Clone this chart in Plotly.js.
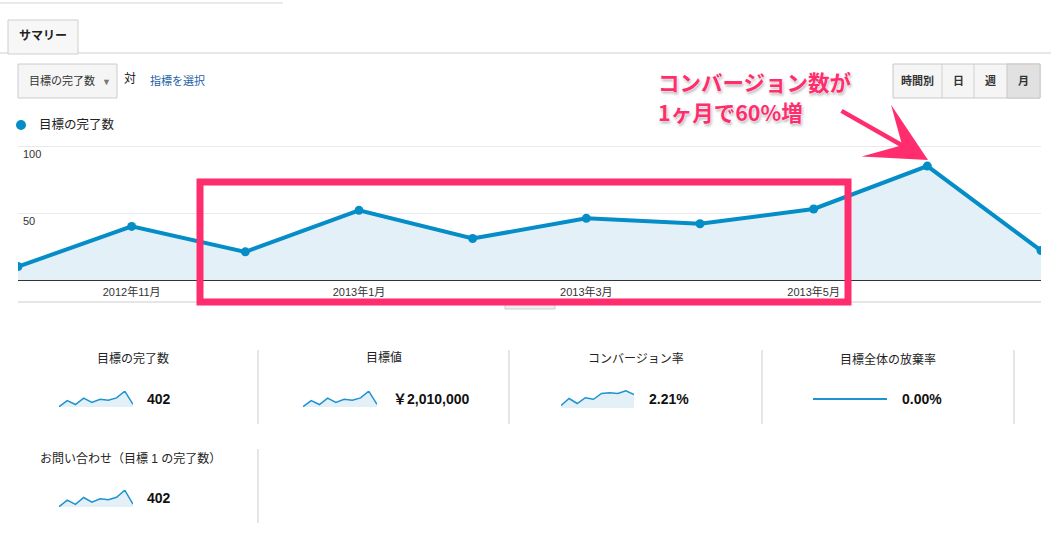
<!DOCTYPE html>
<html>
<head>
<meta charset="utf-8">
<script src="https://cdn.plot.ly/plotly-3.0.1.min.js"></script>
<style>
  html, body { margin: 0; padding: 0; background: #fff; }
  #chart { width: 1051px; height: 542px; }
</style>
</head>
<body>
<div id="chart"></div>
<script>
// months shown on the main chart
const months = ['2012年10月', '2012年11月', '2012年12月', '2013年1月', '2013年2月',
  '2013年3月', '2013年4月', '2013年5月', '2013年6月', '2013年7月'];
const tickMonths = ['2012年11月', '2013年1月', '2013年3月', '2013年5月'];
const yTickVals = [50, 100];

// series
const goalCompletions = [10, 40, 21, 52, 31, 46, 42, 53, 85, 22];
const goalValue = [50000, 200000, 105000, 260000, 155000, 230000, 210000, 265000, 425000, 110000];
const convRate = [1.30, 1.84, 1.45, 1.90, 1.78, 2.23, 2.29, 2.23, 2.44, 2.14];
const abandonRate = [0, 0, 0, 0, 0, 0, 0, 0, 0, 0];
const contactCompletions = [10, 40, 21, 52, 31, 46, 42, 53, 85, 22];

// scorecards
const cardTitles = ['目標の完了数', '目標値', 'コンバージョン率', '目標全体の放棄率', 'お問い合わせ（目標 1 の完了数）'];
const cardValues = ['402', '￥2,010,000', '2.21%', '0.00%', '402'];
const cardSeries = [goalCompletions, goalValue, convRate, abandonRate, contactCompletions];

// callout
const calloutLines = ['コンバージョン数が', '1ヶ月で60%増'];

const W = 1051, H = 542;
const X = p => p / W;
const Y = p => 1 - p / H;

const BLUE = '#058dc7';
const PINK = '#ff2d6e';
const FONT = 'Liberation Sans, Noto Sans CJK JP, sans-serif';

// pixel layout of the scorecards
const cardPos = [
  { cx: 133, ty: 358, sx0: 59, sx1: 133, sy0: 391, sy1: 407, vx: 145, vy: 399 },
  { cx: 384, ty: 357, sx0: 303, sx1: 377, sy0: 391, sy1: 407, vx: 391, vy: 399 },
  { cx: 636, ty: 359, sx0: 561, sx1: 634, sy0: 390, sy1: 408, vx: 647, vy: 399 },
  { cx: 888, ty: 359, sx0: 813, sx1: 887, sy0: 390, sy1: 408, vx: 900, vy: 399 },
  { cx: 130, ty: 458, sx0: 59, sx1: 133, sy0: 490, sy1: 507, vx: 145, vy: 498 }
];
const sparkRanges = [[9, 86], [45000, 430000], [1.1, 2.5], [-1, 1], [9, 86]];

function txt(x, y, text, opts) {
  return Object.assign({
    xref: 'paper', yref: 'paper', x: X(x), y: Y(y), text: text, showarrow: false,
    xanchor: 'left', yanchor: 'middle', font: { family: FONT, size: 12, color: '#222' }
  }, opts || {});
}
function rect(x0, y0, x1, y1, fill, line) {
  return { type: 'rect', xref: 'paper', yref: 'paper', x0: X(x0), x1: X(x1), y0: Y(y0), y1: Y(y1),
    fillcolor: fill, line: { color: line || 'rgba(0,0,0,0)', width: line ? 1 : 0 } };
}
function hline(x0, x1, y, color) {
  return { type: 'line', xref: 'paper', yref: 'paper', x0: X(x0), x1: X(x1), y0: Y(y), y1: Y(y),
    line: { color: color, width: 1 } };
}
function vline(x, y0, y1, color) {
  return { type: 'line', xref: 'paper', yref: 'paper', x0: X(x), x1: X(x), y0: Y(y0), y1: Y(y1),
    line: { color: color, width: 1 } };
}

// main trace
const traces = [{
  x: months, y: goalCompletions, type: 'scatter', mode: 'lines+markers',
  line: { color: BLUE, width: 4 }, marker: { color: BLUE, size: 9 },
  fill: 'tozeroy', fillcolor: '#e3f0f7', hoverinfo: 'skip'
}];

const layout = {
  width: W, height: H, margin: { l: 0, r: 0, t: 0, b: 0 },
  paper_bgcolor: '#fff', plot_bgcolor: '#fff', showlegend: false,
  font: { family: FONT, size: 12, color: '#222' },
  xaxis: {
    type: 'category', domain: [X(18), X(1041)], range: [0, 9],
    tickvals: tickMonths, ticktext: tickMonths, ticks: '', showgrid: false,
    showline: true, linecolor: '#333', linewidth: 1, zeroline: false, ticklabelstandoff: 2,
    tickfont: { family: FONT, size: 11, color: '#333' }, fixedrange: true
  },
  yaxis: {
    domain: [Y(280), Y(144)], range: [0, 101.5], tick0: 0, dtick: 50,
    showgrid: true, gridcolor: '#e9e9e9', showticklabels: false, zeroline: false, fixedrange: true
  },
  shapes: [],
  annotations: []
};

// sparklines, one small axis pair each
cardSeries.forEach((s, i) => {
  const p = cardPos[i];
  const n = i + 2;
  const flat = s.every(v => v === 0);
  traces.push({
    x: months, y: s, type: 'scatter', mode: 'lines', xaxis: 'x' + n, yaxis: 'y' + n,
    line: { color: '#1e93d0', width: flat ? 2 : 1.5 },
    fill: flat ? 'none' : 'tozeroy', fillcolor: '#e3f0f8', hoverinfo: 'skip'
  });
  layout['xaxis' + n] = { type: 'category', domain: [X(p.sx0), X(p.sx1)], range: [0, 9], visible: false, anchor: 'y' + n };
  layout['yaxis' + n] = { domain: [Y(p.sy1), Y(p.sy0)], range: sparkRanges[i], visible: false, anchor: 'x' + n };
  layout.annotations.push(txt(p.cx, p.ty, cardTitles[i], { xanchor: 'center', font: { family: FONT, size: 12, color: '#222' } }));
  layout.annotations.push(txt(p.vx, p.vy, '<b>' + cardValues[i] + '</b>', { font: { family: FONT, size: 14, color: '#111' } }));
});

// y tick labels sit just under the gridlines
yTickVals.forEach(v => {
  layout.annotations.push({
    xref: 'paper', yref: 'y', x: X(21), y: v, yanchor: 'top', xanchor: 'left', yshift: 0,
    text: String(v), showarrow: false, font: { family: FONT, size: 11, color: '#333' }
  });
});

// page chrome: top rule, tab, dropdown, period buttons
layout.shapes.push(
  hline(0, 283, 3, '#d5d5d5'),
  rect(8, 20, 78, 54, '#f7f7f7', '#cfcfcf'),
  hline(0, 8, 53, '#cfcfcf'),
  hline(78, 1051, 53, '#cfcfcf'),
  rect(18, 64, 117, 98, '#f5f5f5', '#cccccc'),
  rect(893, 64, 1040, 98, '#f5f5f5', '#c8c8c8'),
  rect(1007, 64, 1040, 98, '#e1e1e1', '#c8c8c8'),
  vline(942, 64, 98, '#d0d0d0'),
  vline(974, 64, 98, '#d0d0d0'),
  { type: 'circle', xref: 'paper', yref: 'paper', x0: X(16), x1: X(26), y0: Y(130), y1: Y(120),
    fillcolor: BLUE, line: { width: 0 } },
  hline(18, 1041, 302, '#cccccc'),
  rect(505, 302, 555, 309, '#eeeeee', '#cccccc')
);
// scorecard dividers
[258, 509, 762, 1014].forEach(x => layout.shapes.push(vline(x, 350, 424, '#cccccc')));
layout.shapes.push(vline(258, 449, 523, '#cccccc'));

// pink highlight box
layout.shapes.push({
  type: 'rect', xref: 'paper', yref: 'paper', x0: X(200), x1: X(848), y0: Y(182), y1: Y(302),
  line: { color: PINK, width: 7 }, fillcolor: 'rgba(0,0,0,0)', layer: 'above'
});

layout.annotations.push(
  txt(43, 36, '<b>サマリー</b>', { xanchor: 'center', font: { family: FONT, size: 12, color: '#222' } }),
  txt(27, 81, '目標の完了数', { font: { family: FONT, size: 11, color: '#333' } }),
  txt(106, 82, '▼', { xanchor: 'center', font: { family: FONT, size: 9, color: '#777' } }),
  txt(122, 79, '対', { font: { family: FONT, size: 12, color: '#111' } }),
  txt(148, 81, '指標を選択', { font: { family: FONT, size: 11, color: '#1d5fa8' } }),
  txt(917, 81, '<b>時間別</b>', { xanchor: 'center', font: { family: FONT, size: 11, color: '#333' } }),
  txt(958, 81, '<b>日</b>', { xanchor: 'center', font: { family: FONT, size: 11, color: '#333' } }),
  txt(990, 81, '<b>週</b>', { xanchor: 'center', font: { family: FONT, size: 11, color: '#333' } }),
  txt(1023, 81, '<b>月</b>', { xanchor: 'center', font: { family: FONT, size: 11, color: '#333' } }),
  txt(37, 125, '目標の完了数', { font: { family: FONT, size: 12.5, color: '#222' } }),
  // callout arrow
  {
    xref: 'paper', yref: 'paper', x: X(928), y: Y(160), ax: -88, ay: -50, text: '',
    showarrow: true, arrowhead: 3, arrowsize: 2.2, arrowwidth: 4.5, arrowcolor: PINK, standoff: 0
  }
);
// callout text, one annotation per line
calloutLines.forEach((line, i) => {
  layout.annotations.push(txt(656, 82 + i * 30, '<b>' + line + '</b>', {
    font: { family: 'Noto Sans CJK JP, sans-serif', size: 21.5, color: PINK,
      shadow: '0 0 2px #fff, 0 0 2px #fff, 1px 2px 3px rgba(0,0,0,0.35)' }
  }));
});

Plotly.newPlot('chart', traces, layout, { displayModeBar: false, staticPlot: true });
</script>
</body>
</html>
